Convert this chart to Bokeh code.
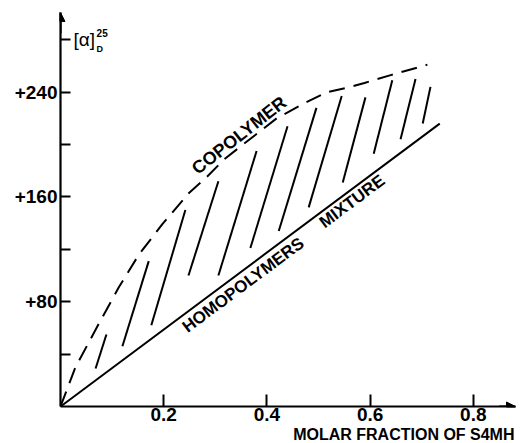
from bokeh.plotting import figure
from bokeh.models import FixedTicker, Label, Arrow, NormalHead, Range1d, Title
from bokeh.embed import file_html
from bokeh.resources import INLINE

# --- data ---
copoly_x = [0.0, 0.029, 0.074, 0.113, 0.152, 0.197, 0.249, 0.283, 0.318, 0.370,
            0.419, 0.475, 0.517, 0.562, 0.589, 0.640, 0.694, 0.711]
copoly_y = [0, 30, 63, 91, 116, 139, 163, 175, 189, 205,
            220, 232, 240, 244, 247, 253, 259, 261]

homo_x = [0.0, 0.735]
homo_y = [0.0, 216.0]

hatch_x0 = [0.068, 0.120, 0.176, 0.248, 0.306, 0.368, 0.423, 0.481, 0.547, 0.607, 0.659, 0.702]
hatch_y0 = [29, 46, 62, 100, 100, 121, 134, 152, 171, 193, 204, 216]
hatch_x1 = [0.089, 0.171, 0.242, 0.306, 0.380, 0.440, 0.496, 0.545, 0.591, 0.643, 0.688, 0.717]
hatch_y1 = [55, 111, 150, 172, 195, 214, 228, 237, 236, 249, 250, 244]

x_ticks = [0.2, 0.4, 0.6, 0.8]
x_tick_labels = ["0.2", "0.4", "0.6", "0.8"]
y_ticks = [40, 80, 120, 160, 200, 240, 280]
y_tick_labels = ["", "+80", "", "+160", "", "+240", ""]

FONT = "Liberation Sans"

p = figure(width=524, height=443, output_backend="svg", toolbar_location=None,
           x_range=Range1d(0, 0.8818), y_range=Range1d(0, 300.8),
           min_border_left=60, min_border_right=9, min_border_top=12, min_border_bottom=37)
p.outline_line_color = None
p.grid.visible = False
p.background_fill_color = "white"
p.border_fill_color = "white"

for ax in (p.xaxis, p.yaxis):
    ax.axis_line_width = 2.2
    ax.axis_line_color = "black"
    ax.major_tick_line_width = 2
    ax.major_tick_line_color = "black"
    ax.major_tick_out = 0
    ax.minor_tick_in = 0
    ax.minor_tick_out = 0
    ax.major_label_text_font = FONT
    ax.major_label_text_font_style = "bold"
    ax.major_label_text_font_size = "19px"
    ax.major_label_text_color = "black"

p.xaxis.ticker = FixedTicker(ticks=x_ticks)
p.xaxis.major_label_overrides = {t: l for t, l in zip(x_ticks, x_tick_labels)}
p.xaxis.major_tick_in = 12
p.xaxis.major_label_standoff = 1

p.yaxis.ticker = FixedTicker(ticks=y_ticks)
p.yaxis.major_label_overrides = {t: l for t, l in zip(y_ticks, y_tick_labels)}
p.yaxis.major_tick_in = 10
p.yaxis.major_label_standoff = 3

# axis title (right-aligned, below the tick labels)
p.add_layout(Title(text="MOLAR FRACTION OF S4MH", align="right", offset=1, standoff=0,
                   text_font=FONT, text_font_size="16px", text_font_style="bold",
                   text_color="black"), "below")

# axis arrow heads
p.add_layout(Arrow(end=NormalHead(size=9, fill_color="black", line_color="black"),
                   x_start=0, y_start=285, x_end=0, y_end=300.8, line_width=2.2))
p.add_layout(Arrow(end=NormalHead(size=9, fill_color="black", line_color="black"),
                   x_start=0.85, y_start=0, x_end=0.8818, y_end=0, line_width=2.2))

# curves
p.line(copoly_x, copoly_y, line_color="black", line_width=2, line_dash="16 9")
p.line(homo_x, homo_y, line_color="black", line_width=2)
p.segment(hatch_x0, hatch_y0, hatch_x1, hatch_y1, line_color="black", line_width=2)

# labels
def lab(text, x, y, size, angle=0.0, style="bold", align="center", baseline="middle", font=FONT):
    p.add_layout(Label(x=x, y=y, text=text, angle=angle, text_font=font,
                       text_font_size=size, text_font_style=style, text_color="black",
                       text_align=align, text_baseline=baseline))

lab("COPOLYMER", 0.346, 207, "18px", angle=0.663)
lab("HOMOPOLYMERS", 0.354, 92.7, "17px", angle=0.641)
lab("MIXTURE", 0.565, 156.6, "17px", angle=0.641)
lab("[α]", 0.0252, 280, "19px", style="normal", align="left")
lab("25", 0.0700, 285.5, "10px", align="left")
lab("D", 0.0700, 273.0, "9px", align="left")

open("out.html", "w").write(file_html(p, INLINE))
